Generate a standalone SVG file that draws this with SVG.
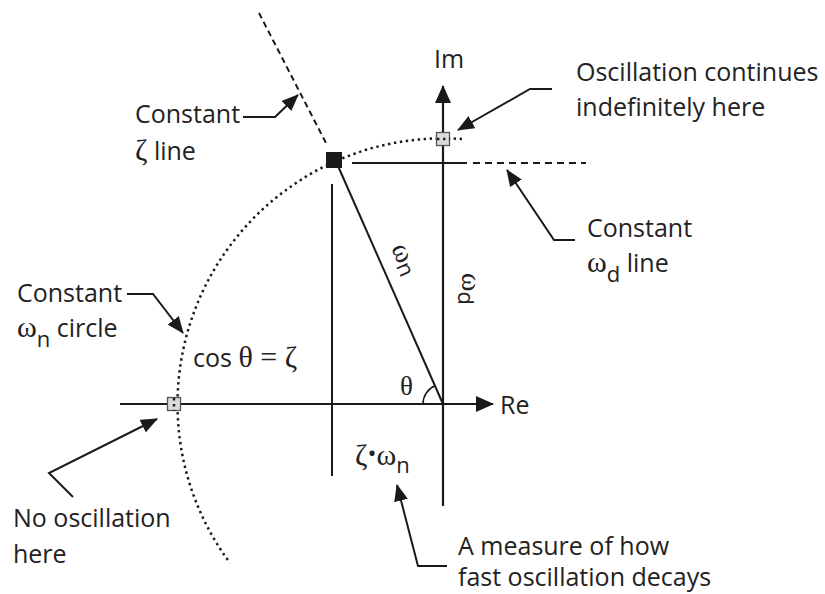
<svg xmlns="http://www.w3.org/2000/svg" width="825" height="594" viewBox="0 0 825 594">
<defs>
<style>
.ln{stroke:#1a1a1a;stroke-width:2;fill:none}
.ax{stroke:#1a1a1a;stroke-width:2.2;fill:none}
.dash{stroke:#1a1a1a;stroke-width:2;fill:none;stroke-dasharray:6 4}
.dot{stroke:#1a1a1a;stroke-width:2.5;fill:none;stroke-dasharray:2.4 3.6}
.call{stroke:#1a1a1a;stroke-width:2;fill:none}
.t{font-family:"Open Sans","Liberation Sans",sans-serif;font-size:25px;fill:#222}
.g{font-family:"Liberation Serif","DejaVu Serif",serif;font-size:30px;fill:#222}
.sub{font-family:"Open Sans","Liberation Sans",sans-serif;font-size:22px}
.gray{fill:#dcdcdc;stroke:#555;stroke-width:1.3}
</style>
<marker id="ah" viewBox="0 0 18 16" refX="17" refY="8" markerWidth="18" markerHeight="16" markerUnits="userSpaceOnUse" orient="auto">
<path d="M0,0 L18,8 L0,16 Z" fill="#1a1a1a"/>
</marker>
<marker id="ch" viewBox="0 0 17 14" refX="16" refY="7" markerWidth="17" markerHeight="14" markerUnits="userSpaceOnUse" orient="auto">
<path d="M0,0 L17,7 L0,14 Z" fill="#1a1a1a"/>
</marker>
</defs>
<rect width="825" height="594" fill="#fff"/>

<g id="axes">
<line class="ax" x1="120" y1="404" x2="493" y2="404" marker-end="url(#ah)"/>
<line class="ax" x1="443" y1="506" x2="443" y2="86" marker-end="url(#ah)"/>
<text class="t" x="500" y="414">Re</text>
<text class="t" x="434" y="68">Im</text>
</g>

<g id="construction">
<path class="dot" d="M462,139 A266,266 0 0 0 230,563"/>
<line class="dash" x1="259" y1="13" x2="327" y2="145"/>
<line class="ln" x1="352" y1="163" x2="467" y2="163"/>
<line class="dash" x1="473" y1="163" x2="586" y2="163" style="stroke-dasharray:7 5"/>
<line class="ln" x1="332" y1="184" x2="332" y2="476"/>
<line class="ln" x1="338" y1="166" x2="443" y2="404"/>
<path class="ln" d="M423,404 A20,20 0 0 1 434.8,385.7" style="stroke-width:1.6"/>
</g>

<g id="pole">
<rect x="326" y="152" width="16" height="16" fill="#1a1a1a"/>
</g>
<g id="pole-im">
<rect class="gray" x="436.5" y="132.5" width="13" height="13"/>
<line x1="437" y1="139" x2="450" y2="139" class="dot"/>
</g>
<g id="pole-re">
<rect class="gray" x="167.5" y="397.5" width="13" height="13"/>
<line x1="174" y1="398" x2="174" y2="411" class="dot"/>
</g>

<g id="labels">
<text class="g" x="400" y="395" style="font-size:27px">θ</text>
<text transform="translate(391,248) rotate(66)"><tspan class="g" style="font-size:28px">ω</tspan><tspan class="sub" dy="3" fill="#222">n</tspan></text>
<text transform="translate(462,273) rotate(90)"><tspan class="g" style="font-size:28px">ω</tspan><tspan class="sub" dy="4" fill="#222">d</tspan></text>
<text x="193" y="367"><tspan class="t">cos </tspan><tspan class="g">θ = ζ</tspan></text>
<text x="355" y="465"><tspan class="g">ζ</tspan><tspan class="t" style="font-size:24px" dy="-3">•</tspan><tspan class="g" dy="3">ω</tspan><tspan class="sub" dy="8" fill="#222">n</tspan></text>
</g>

<g id="note-zeta">
<text class="t" x="135" y="123">Constant</text>
<text x="135" y="160"><tspan class="g">ζ</tspan><tspan class="t"> line</tspan></text>
</g>
<g id="note-osc">
<text class="t" x="576" y="81">Oscillation continues</text>
<text class="t" x="576" y="116">indefinitely here</text>
</g>
<g id="note-wd">
<text class="t" x="587" y="237">Constant</text>
<text x="587" y="272"><tspan class="g">ω</tspan><tspan class="sub" dy="10" fill="#222">d</tspan><tspan class="t" dy="-10"> line</tspan></text>
</g>
<g id="note-wn">
<text class="t" x="17" y="302">Constant</text>
<text x="17" y="337"><tspan class="g">ω</tspan><tspan class="sub" dy="10" fill="#222">n</tspan><tspan class="t" dy="-10"> circle</tspan></text>
</g>
<g id="note-noosc">
<text class="t" x="13" y="527">No oscillation</text>
<text class="t" x="13" y="563">here</text>
</g>
<g id="note-decay">
<text class="t" x="458" y="555">A measure of how</text>
<text class="t" x="458" y="586">fast oscillation decays</text>
</g>

<g id="connectors">
<path class="call" d="M243,117 L275,117 L298,95" marker-end="url(#ch)"/>
<path class="call" d="M552,89 L530,89 L458,130" marker-end="url(#ch)"/>
<path class="call" d="M575,240 L554,240 L507,170" marker-end="url(#ch)"/>
<path class="call" d="M127,294 L153,294 L183,333" marker-end="url(#ch)"/>
<path class="call" d="M73,497 L49,473 L157,419" marker-end="url(#ch)"/>
<path class="call" d="M447,566 L418,566 L397,485" marker-end="url(#ch)"/>
</g>
</svg>
